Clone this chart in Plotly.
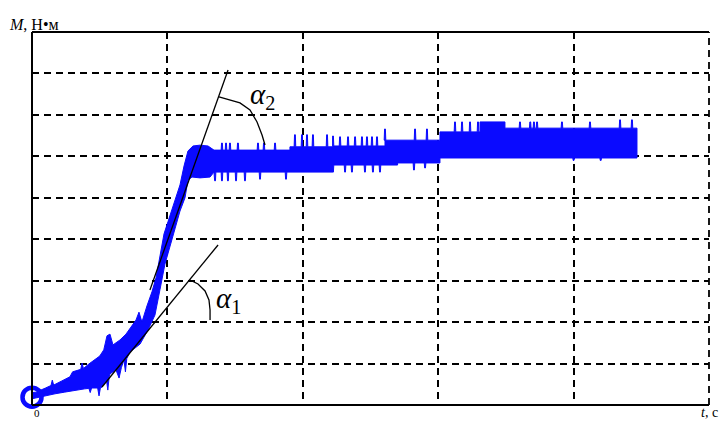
import plotly.graph_objects as go

BLUE = "#0a0aff"

# ---- data (t in grid divisions, M in grid divisions) ----
rise_upper_t = [0.00, 0.03, 0.10, 0.14, 0.15, 0.16, 0.22, 0.28, 0.30, 0.34, 0.36, 0.37, 0.38, 0.42,
                0.46, 0.50, 0.53, 0.554, 0.576, 0.598,
                0.65, 0.694, 0.731, 0.768, 0.79, 0.812, 0.849, 0.886, 0.916, 0.945, 0.975, 1.004,
                1.034, 1.064, 1.093, 1.123, 1.152, 1.189, 1.241, 1.30, 1.344]
rise_upper_M = [0.30, 0.31, 0.41, 0.47, 0.60, 0.48, 0.58, 0.68, 0.80, 0.85, 0.86, 1.01, 0.88, 0.99,
                1.09, 1.18, 1.33, 1.67, 1.71, 1.45,
                1.57, 1.71, 1.88, 2.05, 2.24, 2.00, 2.39, 2.73, 3.07, 3.64, 4.13, 4.42,
                4.71, 5.00, 5.31, 5.77, 6.13, 6.25, 6.27, 6.25, 6.15]

rise_lower_t = [0.00, 0.03, 0.10, 0.17, 0.24, 0.32, 0.39, 0.42, 0.43, 0.44, 0.465, 0.485, 0.495,
                0.505, 0.517, 0.55, 0.56, 0.57, 0.576,
                0.62, 0.643, 0.66, 0.679, 0.69, 0.70, 0.724, 0.798, 0.857, 0.908, 0.945, 0.982,
                1.019, 1.056, 1.093, 1.13, 1.152, 1.182, 1.241, 1.315, 1.344]
rise_lower_M = [0.15, 0.17, 0.22, 0.27, 0.31, 0.36, 0.39, 0.40, 0.30, 0.41, 0.41, 0.41, 0.22,
                0.41, 0.43, 0.60, 0.36, 0.68, 0.75,
                0.85, 0.65, 0.90, 1.09, 0.80, 1.12, 1.28, 1.47, 1.81, 2.17, 2.78, 3.40,
                3.84, 4.25, 4.68, 5.00, 5.43, 5.50, 5.48, 5.50, 5.62]

plateau_end_t = 4.468
upper_level_t = [1.344, 1.905, 2.22, 2.607, 3.013, 3.309, 3.493]
upper_level_M = [6.15, 6.23, 6.25, 6.39, 6.59, 6.83, 6.68]
lower_level_t = [1.344, 2.22, 2.70, 3.013]
lower_level_M = [5.62, 5.79, 5.84, 5.96]

spike_up_t = [1.403, 1.433, 1.462, 1.521, 1.669, 1.713, 1.795, 1.942, 1.994, 2.031, 2.075, 2.179,
              2.223, 2.275, 2.334, 2.386, 2.437, 2.474, 2.511, 2.548, 2.607, 2.829, 2.917,
              3.124, 3.176, 3.235, 3.294, 3.604, 3.68, 3.707, 3.73, 3.914, 4.121, 4.343, 4.431]
spike_up_M = [6.32, 6.32, 6.32, 6.32, 6.32, 6.32, 6.32, 6.52, 6.52, 6.52, 6.52, 6.52,
              6.49, 6.47, 6.47, 6.47, 6.47, 6.47, 6.47, 6.47, 6.66, 6.66, 6.66,
              6.83, 6.83, 6.83, 6.83, 6.83, 6.83, 6.83, 6.83, 6.83, 6.83, 6.88, 6.88]
spike_dn_t = [1.352, 1.403, 1.447, 1.507, 1.573, 1.684, 1.876, 2.223, 2.312, 2.363, 2.459, 2.518,
              2.570, 2.821, 2.903, 4.00, 4.20]
spike_dn_M = [5.41, 5.41, 5.41, 5.41, 5.41, 5.45, 5.45, 5.62, 5.62, 5.62, 5.62, 5.62,
              5.62, 5.67, 5.72, 5.90, 5.90]

start_t, start_M = [0.0], [0.19]

tan2_t, tan2_M = [0.871, 1.448], [2.775, 8.084]
tan1_t, tan1_M = [0.517, 1.374], [0.434, 3.861]
arc2_t = [1.381, 1.462, 1.536, 1.610, 1.662, 1.699, 1.721]
arc2_M = [7.432, 7.360, 7.288, 7.119, 6.829, 6.515, 6.274]
arc1_t = [1.167, 1.226, 1.278, 1.307, 1.315, 1.315]
arc1_M = [3.016, 2.920, 2.751, 2.534, 2.292, 2.051]
label1_t, label1_M = 1.448, 2.534
label2_t, label2_M = 1.699, 7.457


def level_at(t, lt, lm):
    v = lm[0]
    for a, b in zip(lt, lm):
        if t >= a:
            v = b
    return v


def plateau_edge(lt, lm, st, sm, end):
    events = [(a, "lvl", b) for a, b in zip(lt, lm)] + [(a, "sp", b) for a, b in zip(st, sm)]
    events.sort(key=lambda e: e[0])
    pts = []
    w = 0.006
    for t, kind, val in events:
        if kind == "lvl":
            prev = level_at(t - 1e-6, lt, lm)
            pts.append((t, prev))
            pts.append((t, val))
        else:
            base = level_at(t, lt, lm)
            pts += [(t - w, base), (t - w / 2, val), (t + w / 2, val), (t + w, base)]
    pts.append((end, level_at(end, lt, lm)))
    return pts


up = list(zip(rise_upper_t, rise_upper_M)) + plateau_edge(upper_level_t, upper_level_M, spike_up_t, spike_up_M, plateau_end_t)
lo = list(zip(rise_lower_t, rise_lower_M)) + plateau_edge(lower_level_t, lower_level_M, spike_dn_t, spike_dn_M, plateau_end_t)
poly = up + lo[::-1]

fig = go.Figure()
fig.add_trace(go.Scatter(x=[p[0] for p in poly], y=[p[1] for p in poly], mode="lines",
                         fill="toself", fillcolor=BLUE, line=dict(color=BLUE, width=1),
                         hoverinfo="skip", showlegend=False))
for tt, mm in [(tan2_t, tan2_M), (tan1_t, tan1_M), (arc2_t, arc2_M), (arc1_t, arc1_M)]:
    fig.add_trace(go.Scatter(x=tt, y=mm, mode="lines", line=dict(color="black", width=1.3),
                             hoverinfo="skip", showlegend=False))
fig.add_trace(go.Scatter(x=start_t, y=start_M, mode="markers", cliponaxis=False,
                         marker=dict(symbol="circle-open", size=19, color=BLUE,
                                     line=dict(width=4.5, color=BLUE)),
                         hoverinfo="skip", showlegend=False))

SERIF = "Liberation Serif"
ann = [
    dict(x=label1_t, y=label1_M, xref="x", yref="y", text="<i>α</i><sub>1</sub>", showarrow=False,
         font=dict(family=SERIF, size=29, color="black")),
    dict(x=label2_t, y=label2_M, xref="x", yref="y", text="<i>α</i><sub>2</sub>", showarrow=False,
         font=dict(family=SERIF, size=29, color="black")),
    dict(x=-0.037, y=1.048, xref="paper", yref="paper", text="<i>M</i>, Н•м", showarrow=False,
         xanchor="left", font=dict(family=SERIF, size=16, color="black")),
    dict(x=1.016, y=-0.046, xref="paper", yref="paper", text="<i>t</i>, с", showarrow=False,
         font=dict(family=SERIF, size=14, color="black")),
    dict(x=0.0, y=-0.042, xref="paper", yref="paper", text="0", showarrow=False,
         font=dict(family=SERIF, size=11, color="black")),
]

shapes = [
    dict(type="line", xref="paper", yref="paper", x0=0, y0=0, x1=0, y1=1, line=dict(color="black", width=2)),
    dict(type="line", xref="paper", yref="paper", x0=0, y0=0, x1=1, y1=0, line=dict(color="black", width=2)),
    dict(type="line", xref="paper", yref="paper", x0=0, y0=1, x1=1, y1=1, line=dict(color="black", width=2.2)),
    dict(type="line", xref="paper", yref="paper", x0=1, y0=0, x1=1, y1=1,
         line=dict(color="black", width=1.8, dash="7px,5px")),
]

axis_common = dict(showgrid=True, gridcolor="black", gridwidth=1.6, griddash="7px,5px",
                   showticklabels=False, ticks="", zeroline=False, showline=False, fixedrange=True)
fig.update_layout(
    width=721, height=428,
    margin=dict(l=32, r=12, t=32, b=23),
    paper_bgcolor="white", plot_bgcolor="white",
    xaxis=dict(range=[0, 5], dtick=1, **axis_common),
    yaxis=dict(range=[0, 9], dtick=1, **axis_common),
    annotations=ann, shapes=shapes,
)

fig.write_html("out.html", config={"displayModeBar": False},
               post_script="document.body.style.margin='0';document.body.style.overflow='hidden';")
